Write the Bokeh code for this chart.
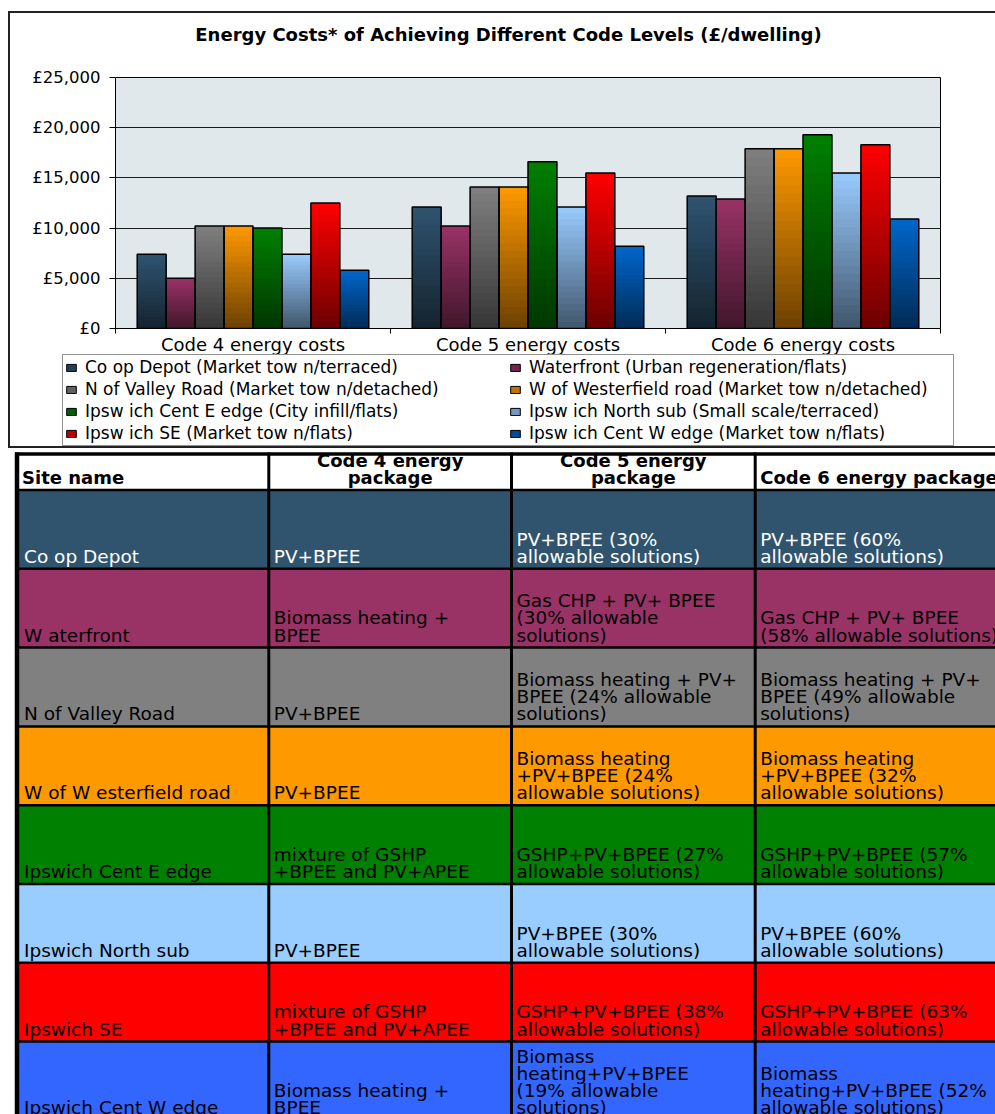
from bokeh.plotting import figure
from bokeh.models import (Range1d, FixedTicker, LinearAxis, Legend, LegendItem, Grid, Column)
from bokeh.layouts import column
from bokeh.embed import file_html
from bokeh.resources import INLINE
from bokeh.core.properties import value

# ---------------- data ----------------
TITLE = "Energy Costs* of Achieving Different Code Levels (£/dwelling)"
categories = ["Code 4 energy costs", "Code 5 energy costs", "Code 6 energy costs"]
series_names = [
    "Co op Depot (Market tow n/terraced)",
    "Waterfront (Urban regeneration/flats)",
    "N of Valley Road (Market tow n/detached)",
    "W of Westerfield road (Market tow n/detached)",
    "Ipsw ich Cent E edge (City infill/flats)",
    "Ipsw ich North sub (Small scale/terraced)",
    "Ipsw ich SE (Market tow n/flats)",
    "Ipsw ich Cent W edge (Market tow n/flats)",
]
co_op_depot = [7400, 12100, 13200]
waterfront = [5000, 10200, 12900]
n_of_valley_road = [10200, 14100, 17900]
w_of_westerfield_road = [10200, 14100, 17900]
ipswich_cent_e_edge = [10000, 16600, 19300]
ipswich_north_sub = [7400, 12100, 15500]
ipswich_se = [12500, 15500, 18300]
ipswich_cent_w_edge = [5800, 8200, 10900]
y_ticks = [0, 5000, 10000, 15000, 20000, 25000]
y_tick_labels = ["£0", "£5,000", "£10,000", "£15,000", "£20,000", "£25,000"]

table_headers = ["Site name", "Code 4 energy\npackage", "Code 5 energy\npackage",
                 "Code 6 energy package"]
site_names = ["Co op Depot", "W aterfront", "N of Valley Road", "W of W esterfield road",
              "Ipswich Cent E edge", "Ipswich North sub", "Ipswich SE", "Ipswich Cent W edge"]
code4_packages = [
    "PV+BPEE",
    "Biomass heating +\nBPEE",
    "PV+BPEE",
    "PV+BPEE",
    "mixture of GSHP\n+BPEE and PV+APEE",
    "PV+BPEE",
    "mixture of GSHP\n+BPEE and PV+APEE",
    "Biomass heating +\nBPEE",
]
code5_packages = [
    "PV+BPEE (30%\nallowable solutions)",
    "Gas CHP + PV+ BPEE\n(30% allowable\nsolutions)",
    "Biomass heating + PV+\nBPEE (24% allowable\nsolutions)",
    "Biomass heating\n+PV+BPEE (24%\nallowable solutions)",
    "GSHP+PV+BPEE (27%\nallowable solutions)",
    "PV+BPEE (30%\nallowable solutions)",
    "GSHP+PV+BPEE (38%\nallowable solutions)",
    "Biomass\nheating+PV+BPEE\n(19% allowable\nsolutions)",
]
code6_packages = [
    "PV+BPEE (60%\nallowable solutions)",
    "Gas CHP + PV+ BPEE\n(58% allowable solutions)",
    "Biomass heating + PV+\nBPEE (49% allowable\nsolutions)",
    "Biomass heating\n+PV+BPEE (32%\nallowable solutions)",
    "GSHP+PV+BPEE (57%\nallowable solutions)",
    "PV+BPEE (60%\nallowable solutions)",
    "GSHP+PV+BPEE (63%\nallowable solutions)",
    "Biomass\nheating+PV+BPEE (52%\nallowable solutions)",
]

# ---------------- styles ----------------
bar_colors = ["#2F5470", "#993366", "#808080", "#FF9900",
              "#008000", "#99CCFF", "#FF0000", "#0066CC"]
row_colors = ["#30546E", "#993366", "#808080", "#FF9900",
              "#008000", "#99CCFF", "#FF0000", "#3366FF"]
row_text_colors = ["white", "black", "black", "black", "black", "black", "black", "black"]
FONT = "DejaVu Sans"

PAGE_W, PAGE_H = 995, 1114
BOX_L, BOX_T, BOX_B, BORDER = 8, 11, 446, 2
FIG_X, FIG_Y = BOX_L + BORDER, BOX_T + BORDER
INNER_W = PAGE_W - FIG_X
TITLE_STRIP_B = 63
FRAME_L, FRAME_R, FRAME_T, FRAME_B = 115, 940, 77, 328
XAXIS_H = 35
LEGEND_TOP = 354
GAP_WIDTH = 1.5
N_BANDS = 20
DARK = 0.42


def shade(hexc, f):
    r, g, b = int(hexc[1:3], 16), int(hexc[3:5], 16), int(hexc[5:7], 16)
    return "#%02x%02x%02x" % (round(r * f), round(g * f), round(b * f))


def no_align(fig):
    if "frame_align" in fig.properties():
        fig.frame_align = False


def blank_fig(w, h, xr, yr):
    f = figure(width=w, height=h, x_range=xr, y_range=yr, x_axis_type=None,
               y_axis_type=None, output_backend="svg", toolbar_location=None, min_border=0)
    no_align(f)
    f.outline_line_color = None
    f.background_fill_color = "white"
    f.border_fill_color = "white"
    return f


# ---------------- title strip ----------------
tf = blank_fig(INNER_W, TITLE_STRIP_B - FIG_Y, Range1d(FIG_X, PAGE_W),
               Range1d(TITLE_STRIP_B, FIG_Y))
tf.text(x=[508], y=[34], text=[TITLE], text_align="center", text_baseline="middle",
        text_font=value(FONT), text_font_style="bold", text_font_size="18px",
        text_color="black")

# ---------------- chart ----------------
series_values = [co_op_depot, waterfront, n_of_valley_road, w_of_westerfield_road,
                 ipswich_cent_e_edge, ipswich_north_sub, ipswich_se, ipswich_cent_w_edge]
n_series = len(series_values)
bar_w = 1.0 / (n_series + GAP_WIDTH)

p = figure(width=INNER_W, height=FRAME_B + XAXIS_H - TITLE_STRIP_B,
           x_range=Range1d(0.5, len(categories) + 0.5), y_range=Range1d(0, 25000),
           x_axis_type=None, y_axis_type=None, output_backend="svg",
           toolbar_location=None,
           min_border_left=FRAME_L - FIG_X, min_border_right=PAGE_W - FRAME_R,
           min_border_top=FRAME_T - TITLE_STRIP_B, min_border_bottom=XAXIS_H)
no_align(p)
p.background_fill_color = "#E1E8EC"
p.border_fill_color = "white"
p.outline_line_color = "black"
p.outline_line_width = 1

p.add_layout(Grid(dimension=1, ticker=FixedTicker(ticks=y_ticks),
                  grid_line_color="#1a1a1a", grid_line_width=1))

xs, vs, cs = [], [], []
for j, vals in enumerate(series_values):
    for i, v in enumerate(vals):
        xs.append(i + 1 + (j - (n_series - 1) / 2) * bar_w)
        vs.append(v)
        cs.append(bar_colors[j])

for k in range(N_BANDS - 1, -1, -1):
    frac = (k + 1) / N_BANDS
    f = DARK + (1 - DARK) * (k + 0.5) / N_BANDS
    p.vbar(x=xs, width=bar_w, bottom=0, top=[v * frac for v in vs],
           fill_color=[shade(c, f) for c in cs], line_color=None)
p.vbar(x=xs, width=bar_w, bottom=0, top=vs, fill_color=None,
       line_color="black", line_width=1.5)

yaxis = LinearAxis(ticker=FixedTicker(ticks=y_ticks),
                   major_label_overrides={t: l for t, l in zip(y_ticks, y_tick_labels)})
yaxis.axis_line_color = "black"
yaxis.major_tick_line_color = "black"
yaxis.major_tick_out = 6
yaxis.major_tick_in = 0
yaxis.minor_tick_line_color = None
yaxis.major_label_text_font = FONT
yaxis.major_label_text_font_size = "16.5px"
yaxis.major_label_text_color = "black"
yaxis.major_label_standoff = 9
p.add_layout(yaxis, "left")

xaxis = LinearAxis(ticker=FixedTicker(ticks=[i + 1 for i in range(len(categories))],
                                      minor_ticks=[i + 0.5 for i in range(len(categories) + 1)]),
                   major_label_overrides={i + 1: c for i, c in enumerate(categories)})
xaxis.axis_line_color = "black"
xaxis.major_tick_line_color = None
xaxis.major_tick_out = 0
xaxis.major_tick_in = 0
xaxis.minor_tick_line_color = "black"
xaxis.minor_tick_out = 5
xaxis.minor_tick_in = 0
xaxis.major_label_text_font = FONT
xaxis.major_label_text_font_size = "18px"
xaxis.major_label_text_color = "black"
xaxis.major_label_standoff = 0
p.add_layout(xaxis, "below")

# ---------------- legend strip (transparent, overlaps the axis-label area) ----------------
LEG_H = BOX_B - LEGEND_TOP
lf = blank_fig(INNER_W, LEG_H, Range1d(0, 1), Range1d(0, 1))
lf.margin = (LEGEND_TOP - (FRAME_B + XAXIS_H), 0, 0, 0)
lf.background_fill_alpha = 0
lf.border_fill_alpha = 0

swatches = [lf.vbar(x=[0.5], top=[0.5], width=0.1, fill_color=shade(c, 0.75),
                    line_color="black", line_width=1, visible=False) for c in bar_colors]
items = [LegendItem(label=series_names[j], renderers=[swatches[j]]) for j in range(n_series)]

LEG_L, COL2_X = 62, 508
PAD, GW, GH, STANDOFF, SPACING = 2, 12, 9, 8, 2
legend = Legend(items=items, orientation="horizontal", ncols=2,
                location=(LEG_L - FIG_X, 0), padding=PAD, spacing=SPACING,
                glyph_width=GW, glyph_height=GH, label_standoff=STANDOFF,
                label_height=20,
                label_width=COL2_X - (LEG_L + PAD) - GW - STANDOFF - SPACING,
                label_text_font=FONT, label_text_font_size="17px",
                label_text_color="black", margin=0,
                border_line_color="#222222", border_line_width=1,
                background_fill_color="white", background_fill_alpha=1)
lf.add_layout(legend)

chart_box = Column(children=[tf, p, lf], margin=(BOX_T, 0, 0, BOX_L), spacing=0,
                   styles={"border-left": "%dpx solid #222222" % BORDER,
                           "border-top": "%dpx solid #222222" % BORDER,
                           "border-bottom": "%dpx solid #222222" % BORDER})

# ---------------- table ----------------
TABLE_Y = BOX_B + BORDER
TABLE_H = PAGE_H - TABLE_Y
T_TOP = 453.5 - TABLE_Y
HEAD_BOTTOM = 489.5 - TABLE_Y
ROW_H = 78.8
COL_LINES = [16.5, 268.3, 511, 754.7]
TEXT_PAD = 5

t = blank_fig(PAGE_W, TABLE_H, Range1d(0, PAGE_W), Range1d(TABLE_H, 0))

n_rows = len(site_names)
row_tops = [HEAD_BOTTOM + ROW_H * r for r in range(n_rows)]
row_bottoms = [rt + ROW_H for rt in row_tops]

t.quad(left=COL_LINES[0], right=PAGE_W, top=row_tops, bottom=row_bottoms,
       fill_color=row_colors, line_color=None)

# grid lines
t.segment(x0=COL_LINES, y0=T_TOP - 1.5, x1=COL_LINES, y1=TABLE_H + 10,
          line_color="black", line_width=[4.5, 3, 3, 3])
h_lines = [HEAD_BOTTOM] + row_bottoms
t.segment(x0=COL_LINES[0], y0=h_lines, x1=PAGE_W, y1=h_lines,
          line_color="black", line_width=2.5)
t.segment(x0=[COL_LINES[0] - 2], y0=[T_TOP], x1=[PAGE_W], y1=[T_TOP],
          line_color="black", line_width=3.5)

# header text
hx = [COL_LINES[0] + TEXT_PAD, (COL_LINES[1] + COL_LINES[2]) / 2,
      (COL_LINES[2] + COL_LINES[3]) / 2, COL_LINES[3] + TEXT_PAD]
t.text(x=hx, y=[HEAD_BOTTOM - 2] * 4, text=table_headers,
       text_align=["left", "center", "center", "left"], text_baseline="bottom",
       text_font=value(FONT), text_font_style="bold", text_font_size="18px",
       text_color="black", text_line_height=0.82)

# body text
for c, col_texts in enumerate([site_names, code4_packages, code5_packages, code6_packages]):
    t.text(x=[COL_LINES[c] + TEXT_PAD + (2 if c == 0 else 0)] * n_rows,
           y=[rb - 2 for rb in row_bottoms], text=col_texts,
           text_align="left", text_baseline="bottom",
           text_font=value(FONT), text_font_size="18.5px",
           text_color=row_text_colors, text_line_height=0.82)

layout = column(chart_box, t, spacing=0)
open("out.html", "w").write(file_html(layout, INLINE))
